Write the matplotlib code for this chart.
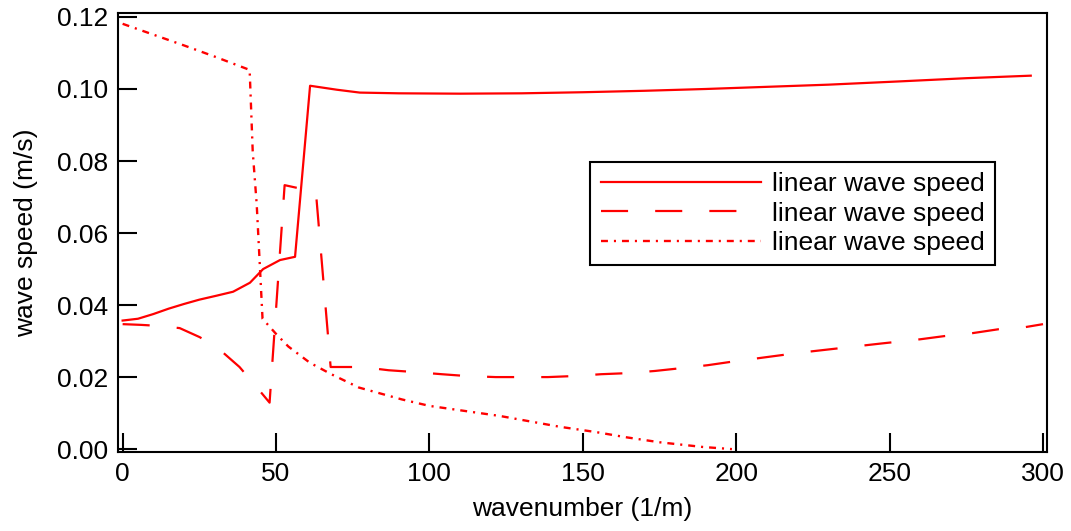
import matplotlib
matplotlib.use('Agg')
from matplotlib import pyplot as plt

plt.rcParams['font.family'] = ['Liberation Sans', 'DejaVu Sans']
plt.rcParams['lines.scale_dashes'] = False

# solid curve
wn_solid = [0, 5, 10, 15, 20, 25, 30.6, 36, 41.5, 45.8, 51.3, 56.2, 61.1, 69.8, 77.3,
            90, 110, 130, 150, 170, 190, 210, 230, 253, 275, 296]
speed_solid = [0.0357, 0.0362, 0.0375, 0.0390, 0.0403, 0.0415, 0.0426, 0.0437, 0.0462,
               0.0500, 0.0525, 0.0534, 0.1009, 0.0998, 0.0990,
               0.0988, 0.0987, 0.0988, 0.0991, 0.0995, 0.1000, 0.1006, 0.1012, 0.1021,
               0.1030, 0.1037]

# dashed curve
wn_dash = [0, 6, 12, 18.6, 25.1, 31, 38.1, 43.7, 47.9, 52.8, 63, 67.8, 77.9, 86.7,
           95.2, 104, 112, 121.6, 130, 138.6, 147.4, 156, 164.7, 173.5, 182.3, 190.7,
           198, 221, 247, 260, 268, 277, 285.6, 294.4, 300]
speed_dash = [0.0347, 0.0345, 0.0342, 0.0336, 0.0311, 0.0281, 0.0228, 0.0172, 0.0129,
              0.0733, 0.0714, 0.0228, 0.0228, 0.0219, 0.0214, 0.0208, 0.0203, 0.0200,
              0.0200, 0.0200, 0.0203, 0.0208, 0.0211, 0.0217, 0.0225, 0.0233, 0.0242,
              0.0268, 0.0293, 0.0305, 0.0314, 0.0322, 0.0333, 0.0339, 0.0347]

# dash-dot curve
wn_dashdot = [0, 10, 20, 30, 41.4, 42.4, 43.7, 44.7, 45.6, 50, 54, 61, 68, 77, 91,
              100, 123, 142.5, 154.5, 164, 175, 189, 198.6]
speed_dashdot = [0.1181, 0.1151, 0.1121, 0.1090, 0.1053, 0.0827, 0.0680, 0.0514, 0.0362,
                 0.0320, 0.0285, 0.0240, 0.0208, 0.0171, 0.0138, 0.0120, 0.0092, 0.0062,
                 0.0047, 0.0033, 0.0019, 0.0006, 0.0000]

label = 'linear wave speed'
x_ticks = [0, 50, 100, 150, 200, 250, 300]
y_ticks = [0.00, 0.02, 0.04, 0.06, 0.08, 0.10, 0.12]

fig = plt.figure(figsize=(10.71, 5.31), dpi=100)
ax = fig.add_axes([0.1102, 0.1488, 0.8674, 0.8267])

ax.plot(wn_solid, speed_solid, color='red', lw=1.6, label=label)
ax.plot(wn_dash, speed_dash, color='red', lw=1.6, dashes=(19.5, 19.5), label=label)
ax.plot(wn_dashdot, speed_dashdot, color='red', lw=1.7,
        dashes=(5.0, 4.3, 1.5, 4.3), label=label)

ax.set_xlim(-1.5, 301.3)
ax.set_ylim(-0.0008, 0.1211)
ax.set_xticks(x_ticks)
ax.set_xticklabels([str(t) for t in x_ticks])
ax.set_yticks(y_ticks)
ax.set_yticklabels(['%.2f' % t for t in y_ticks])

for s in ax.spines.values():
    s.set_linewidth(1.5)
    s.set_color('black')
ax.tick_params(axis='both', direction='in', length=14, width=1.5,
               labelsize=19, colors='black')
ax.tick_params(axis='x', pad=7)
ax.tick_params(axis='y', pad=7)

ax.set_xlabel('wavenumber (1/m)', fontsize=19, labelpad=8)
ax.set_ylabel('wave speed (m/s)', fontsize=19, labelpad=14)

leg = ax.legend(loc='upper left', bbox_to_anchor=(0.508, 0.661), borderaxespad=0,
                fontsize=19, handlelength=6.1, handletextpad=0.38, borderpad=0.4,
                labelspacing=0.2, fancybox=False, framealpha=1)
leg.get_frame().set_edgecolor('black')
leg.get_frame().set_linewidth(1.5)

fig.savefig('out.png', dpi=100)
